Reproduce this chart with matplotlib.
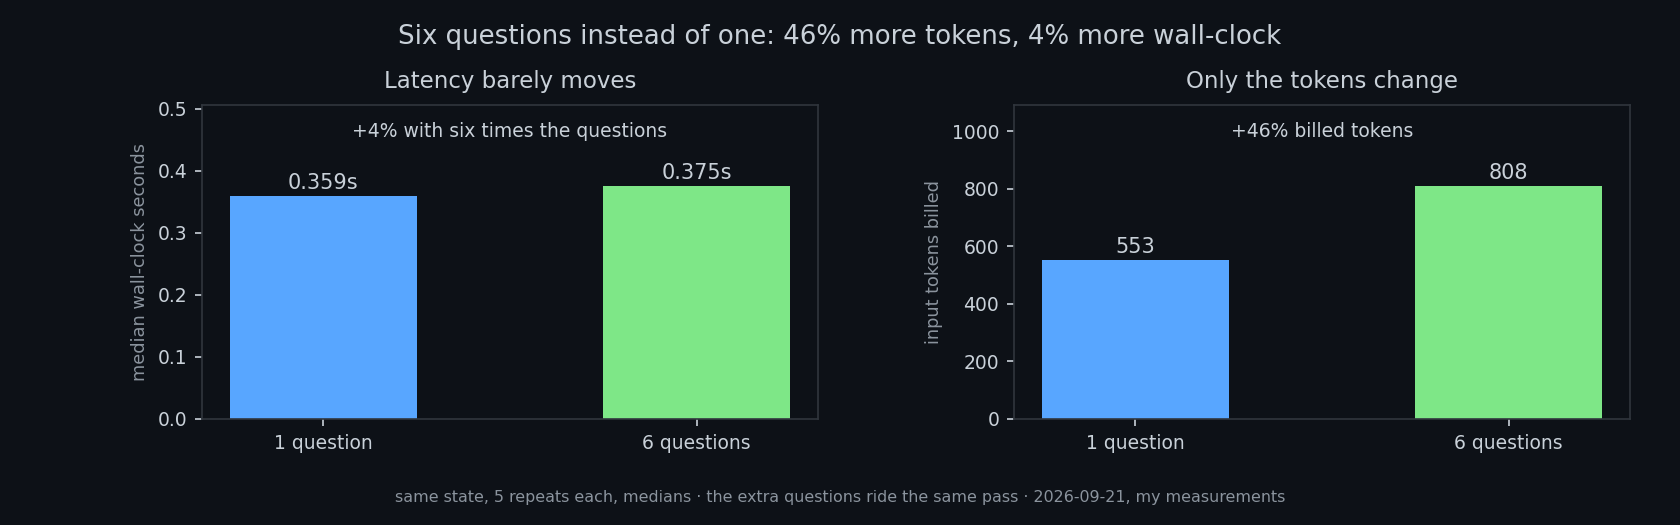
import matplotlib
matplotlib.use("Agg")
import matplotlib.pyplot as plt

# data
categories = ["1 question", "6 questions"]
latency_s = [0.359, 0.375]
tokens_billed = [553, 808]

BG = "#0d1117"
FG = "#c9d1d9"
MUTED = "#8b949e"
SPINE = "#30363d"
COLORS = ["#58a6ff", "#7ee787"]

fig, (ax_lat, ax_tok) = plt.subplots(1, 2, figsize=(11.2, 3.5), dpi=150)
fig.patch.set_facecolor(BG)
fig.subplots_adjust(left=0.1202, right=0.9702, bottom=0.202, top=0.8, wspace=0.318)


def style_ax(ax):
    ax.set_facecolor(BG)
    for s in ax.spines.values():
        s.set_color(SPINE)
    ax.tick_params(colors=FG, labelsize=9)
    for lbl in ax.get_xticklabels() + ax.get_yticklabels():
        lbl.set_color(FG)


# --- latency panel ---
bars = ax_lat.bar(categories, latency_s, width=0.5, color=COLORS)
ax_lat.set_ylim(0, max(latency_s) * 1.35)
ax_lat.set_title("Latency barely moves", color=FG, fontsize=11, pad=8)
ax_lat.set_ylabel("median wall-clock seconds", color=MUTED, fontsize=8.5)
for b, v in zip(bars, latency_s):
    ax_lat.annotate(f"{v:.3f}s", (b.get_x() + b.get_width() / 2, v),
                    xytext=(0, 1.5), textcoords="offset points",
                    ha="center", va="bottom", color=FG, fontsize=10)
ax_lat.text(0.5, 0.915, "+4% with six times the questions", transform=ax_lat.transAxes,
            ha="center", va="center", color=FG, fontsize=9)
style_ax(ax_lat)

# --- tokens panel ---
bars = ax_tok.bar(categories, tokens_billed, width=0.5, color=COLORS)
ax_tok.set_ylim(0, max(tokens_billed) * 1.35)
ax_tok.set_title("Only the tokens change", color=FG, fontsize=11, pad=8)
ax_tok.set_ylabel("input tokens billed", color=MUTED, fontsize=8.5)
for b, v in zip(bars, tokens_billed):
    ax_tok.annotate(f"{v}", (b.get_x() + b.get_width() / 2, v),
                    xytext=(0, 1.5), textcoords="offset points",
                    ha="center", va="bottom", color=FG, fontsize=10)
ax_tok.text(0.5, 0.915, "+46% billed tokens", transform=ax_tok.transAxes,
            ha="center", va="center", color=FG, fontsize=9)
style_ax(ax_tok)

fig.suptitle("Six questions instead of one: 46% more tokens, 4% more wall-clock",
             color=FG, fontsize=12.5, y=0.929, va="center")
fig.text(0.5, 0.053,
         "same state, 5 repeats each, medians \u00b7 the extra questions ride the same pass \u00b7 2026-09-21, my measurements",
         ha="center", va="center", color=MUTED, fontsize=7.6)

fig.savefig("out.png", dpi=150, facecolor=BG)
